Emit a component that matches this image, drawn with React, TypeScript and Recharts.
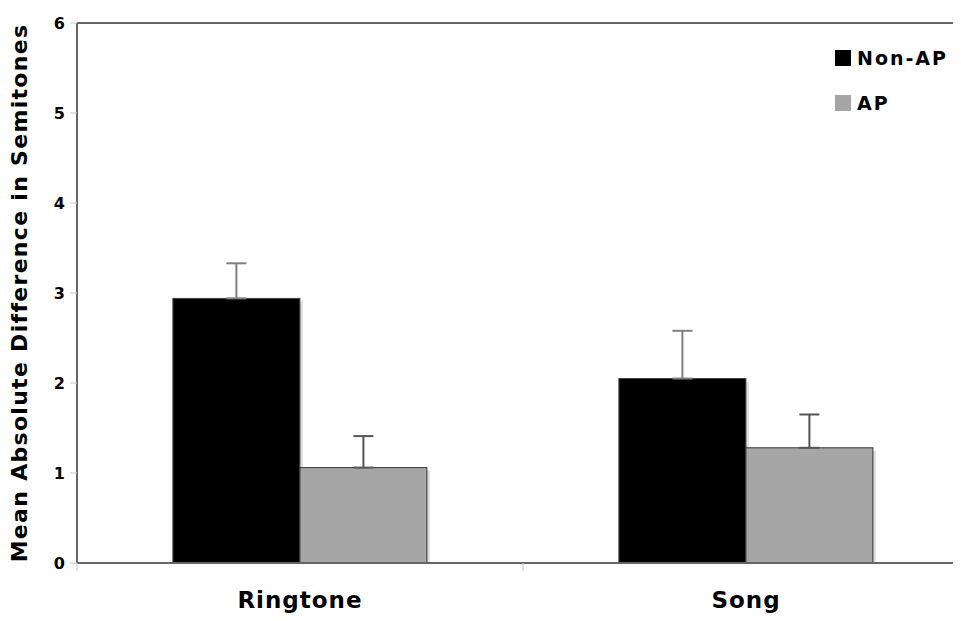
import { BarChart, Bar, XAxis, YAxis, ErrorBar, Legend, ReferenceLine } from 'recharts';

const categories = ['Ringtone', 'Song'];
const seriesNames = ['Non-AP', 'AP'];
const nonApMeans = [2.94, 2.05];
const nonApErrors = [0.39, 0.53];
const apMeans = [1.06, 1.28];
const apErrors = [0.35, 0.37];
const yTicks = [0, 1, 2, 3, 4, 5, 6];

const FONT = '"DejaVu Sans", Verdana, sans-serif';
const NON_AP = '#000000';
const AP = '#a6a6a6';

// error bars only go up, so the low side is 0
const chartData = categories.map((name, i) => ({
  name,
  nonAp: nonApMeans[i],
  nonApErr: [0, nonApErrors[i]],
  ap: apMeans[i],
  apErr: [0, apErrors[i]],
}));

function LegendBox({ payload }: any) {
  const items = [...(payload || [])].sort(
    (a: any, b: any) => seriesNames.indexOf(a.value) - seriesNames.indexOf(b.value)
  );
  return (
    <div style={{ fontFamily: FONT, fontWeight: 'bold', fontSize: 19, letterSpacing: 2 }}>
      {items.map((p: any) => (
        <div key={p.value} style={{ display: 'flex', alignItems: 'center', height: 45 }}>
          <span style={{ width: 16, height: 16, background: p.color, display: 'inline-block', marginRight: 6 }} />
          <span style={{ color: '#000' }}>{p.value}</span>
        </div>
      ))}
    </div>
  );
}

// category label plus the small tick marks sitting on the category boundaries
function CategoryTick({ x, y, payload }: any) {
  const half = payload.offset || 0;
  return (
    <g>
      {payload.index === 0 && <line x1={x - half} x2={x - half} y1={y} y2={y + 8} stroke="#c8c8c8" />}
      <line x1={x + half} x2={x + half} y1={y} y2={y + 8} stroke="#c8c8c8" />
      <text x={x} y={y + 29} dy="0.71em" textAnchor="middle" fontFamily={FONT} fontWeight="bold" fontSize={23} letterSpacing={1} fill="#000">
        {payload.value}
      </text>
    </g>
  );
}

function ShadowBar(props: any) {
  const { x, y, width, height, fill, stroke } = props;
  if (!height || height <= 0) return null;
  return (
    <g>
      <rect x={x + 3} y={y + 3} width={width} height={Math.max(height - 3, 0)} fill="rgba(0,0,0,0.13)" />
      <rect x={x} y={y} width={width} height={height} fill={fill} stroke={stroke} strokeWidth={1} />
    </g>
  );
}

export default function App() {
  return (
    <div style={{ margin: -8, width: 961, height: 621, overflow: 'hidden', background: '#fff', position: 'relative' }}>
      <BarChart
        width={980}
        height={621}
        data={chartData}
        margin={{ top: 23, right: 11, left: 30, bottom: 0 }}
        barCategoryGap="21.5%"
        barGap={0}
      >
        <XAxis
          dataKey="name"
          height={58}
          axisLine={{ stroke: '#666', strokeWidth: 2 }}
          tickLine={false}
          tickSize={0}
          tickMargin={0}
          tick={<CategoryTick />}
        />
        <YAxis
          type="number"
          domain={[0, 6]}
          ticks={yTicks}
          width={47}
          axisLine={{ stroke: '#666', strokeWidth: 2 }}
          tickLine={{ stroke: '#c8c8c8' }}
          tickSize={7}
          tickMargin={5}
          tick={{ fontFamily: FONT, fontWeight: 'bold', fontSize: 16, fill: '#000' }}
          label={{
            value: 'Mean Absolute Difference in Semitones',
            angle: -90,
            position: 'insideLeft',
            dx: -16,
            style: { fontFamily: FONT, fontWeight: 'bold', fontSize: 22, fill: '#000', textAnchor: 'middle', letterSpacing: 1.3 },
          }}
        />
        <ReferenceLine y={6} stroke="#666" strokeWidth={2} ifOverflow="extendDomain" />
        <Legend
          verticalAlign="middle"
          align="center"
          layout="horizontal"
          wrapperStyle={{ left: 835, top: 35, width: 130, right: 'auto', bottom: 'auto' }}
          content={<LegendBox />}
        />
        <Bar dataKey="nonAp" name="Non-AP" fill={NON_AP} stroke="#444" shape={<ShadowBar />} isAnimationActive={false}>
          <ErrorBar dataKey="nonApErr" direction="y" width={10} stroke="#808080" strokeWidth={2} />
        </Bar>
        <Bar dataKey="ap" name="AP" fill={AP} stroke="#333" shape={<ShadowBar />} isAnimationActive={false}>
          <ErrorBar dataKey="apErr" direction="y" width={10} stroke="#555" strokeWidth={2} />
        </Bar>
      </BarChart>
    </div>
  );
}
